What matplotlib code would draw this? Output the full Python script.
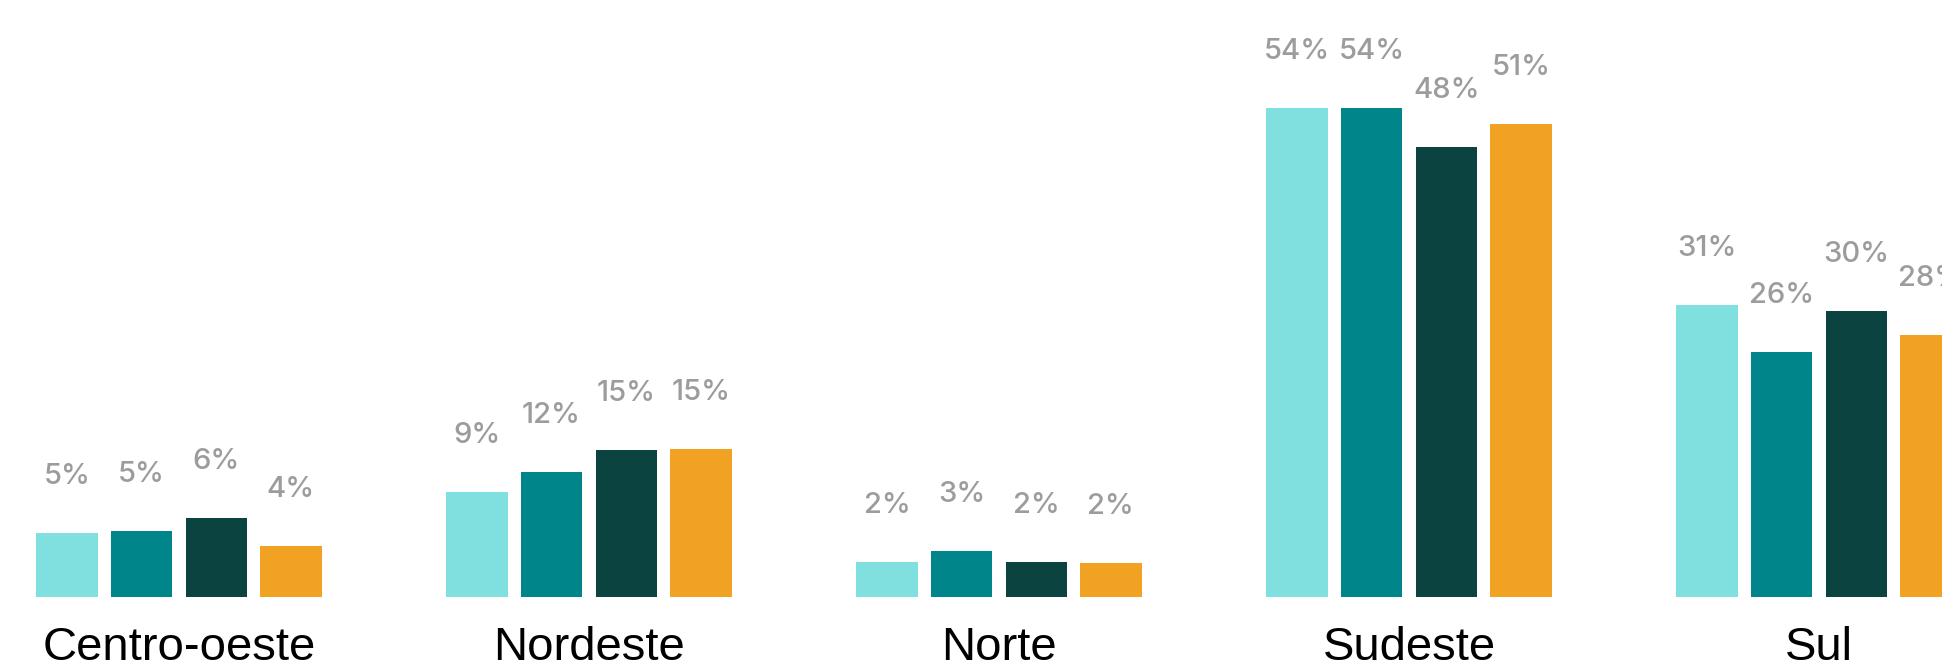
import matplotlib.pyplot as plt
import numpy as np

plt.rcParams['font.family'] = ['Liberation Sans', 'DejaVu Sans']

# Regiones y valores
regions = ['Centro-oeste', 'Nordeste', 'Norte', 'Sudeste', 'Sul']

# Alturas de las barras (estimadas de la imagen, escala en %)
serie_1 = [7.0, 11.6, 3.8, 54.0, 32.2]
serie_2 = [7.3, 13.8, 5.0, 54.0, 27.0]
serie_3 = [8.7, 16.2, 3.8, 49.7, 31.5]
serie_4 = [5.6, 16.3, 3.7, 52.2, 28.9]

# Etiquetas tal como aparecen sobre las barras
labels_1 = ['5%', '9%', '2%', '54%', '31%']
labels_2 = ['5%', '12%', '3%', '54%', '26%']
labels_3 = ['6%', '15%', '2%', '48%', '30%']
labels_4 = ['4%', '15%', '2%', '51%', '28%']

COLORS = ['#80DFDF', '#00868A', '#0B4341', '#F1A222']
LABEL_GRAY = '#9C9C9C'

series = [serie_1, serie_2, serie_3, serie_4]
labels = [labels_1, labels_2, labels_3, labels_4]

fig = plt.figure(figsize=(19.42, 6.72), dpi=100)
ax = fig.add_axes([0, 0.112, 1, 0.888])

x = np.arange(len(regions))
width = 0.151
offsets = [-0.273, -0.0915, 0.0915, 0.273]

for values, texts, off, color in zip(series, labels, offsets, COLORS):
    bars = ax.bar(x + off, values, width=width, color=color, linewidth=0)
    for bar, txt in zip(bars, texts):
        ax.annotate(txt,
                    xy=(bar.get_x() + bar.get_width() / 2, bar.get_height()),
                    xytext=(0, 31), textcoords='offset points',
                    ha='center', va='bottom',
                    fontsize=21, color=LABEL_GRAY,
                    family=['Inter', 'Liberation Sans'], fontweight='medium',
                    annotation_clip=False, clip_on=True)

ax.set_xlim(-0.4366, 4.300)
ax.set_ylim(0, 65.9)

ax.set_xticks(x)
ax.set_xticklabels(regions, fontsize=34, color='black')
ax.tick_params(axis='x', length=0, pad=21)
ax.set_yticks([])

for side in ['top', 'right', 'left', 'bottom']:
    ax.spines[side].set_visible(False)

fig.savefig('out.png', dpi=100, facecolor='white')
plt.close()
